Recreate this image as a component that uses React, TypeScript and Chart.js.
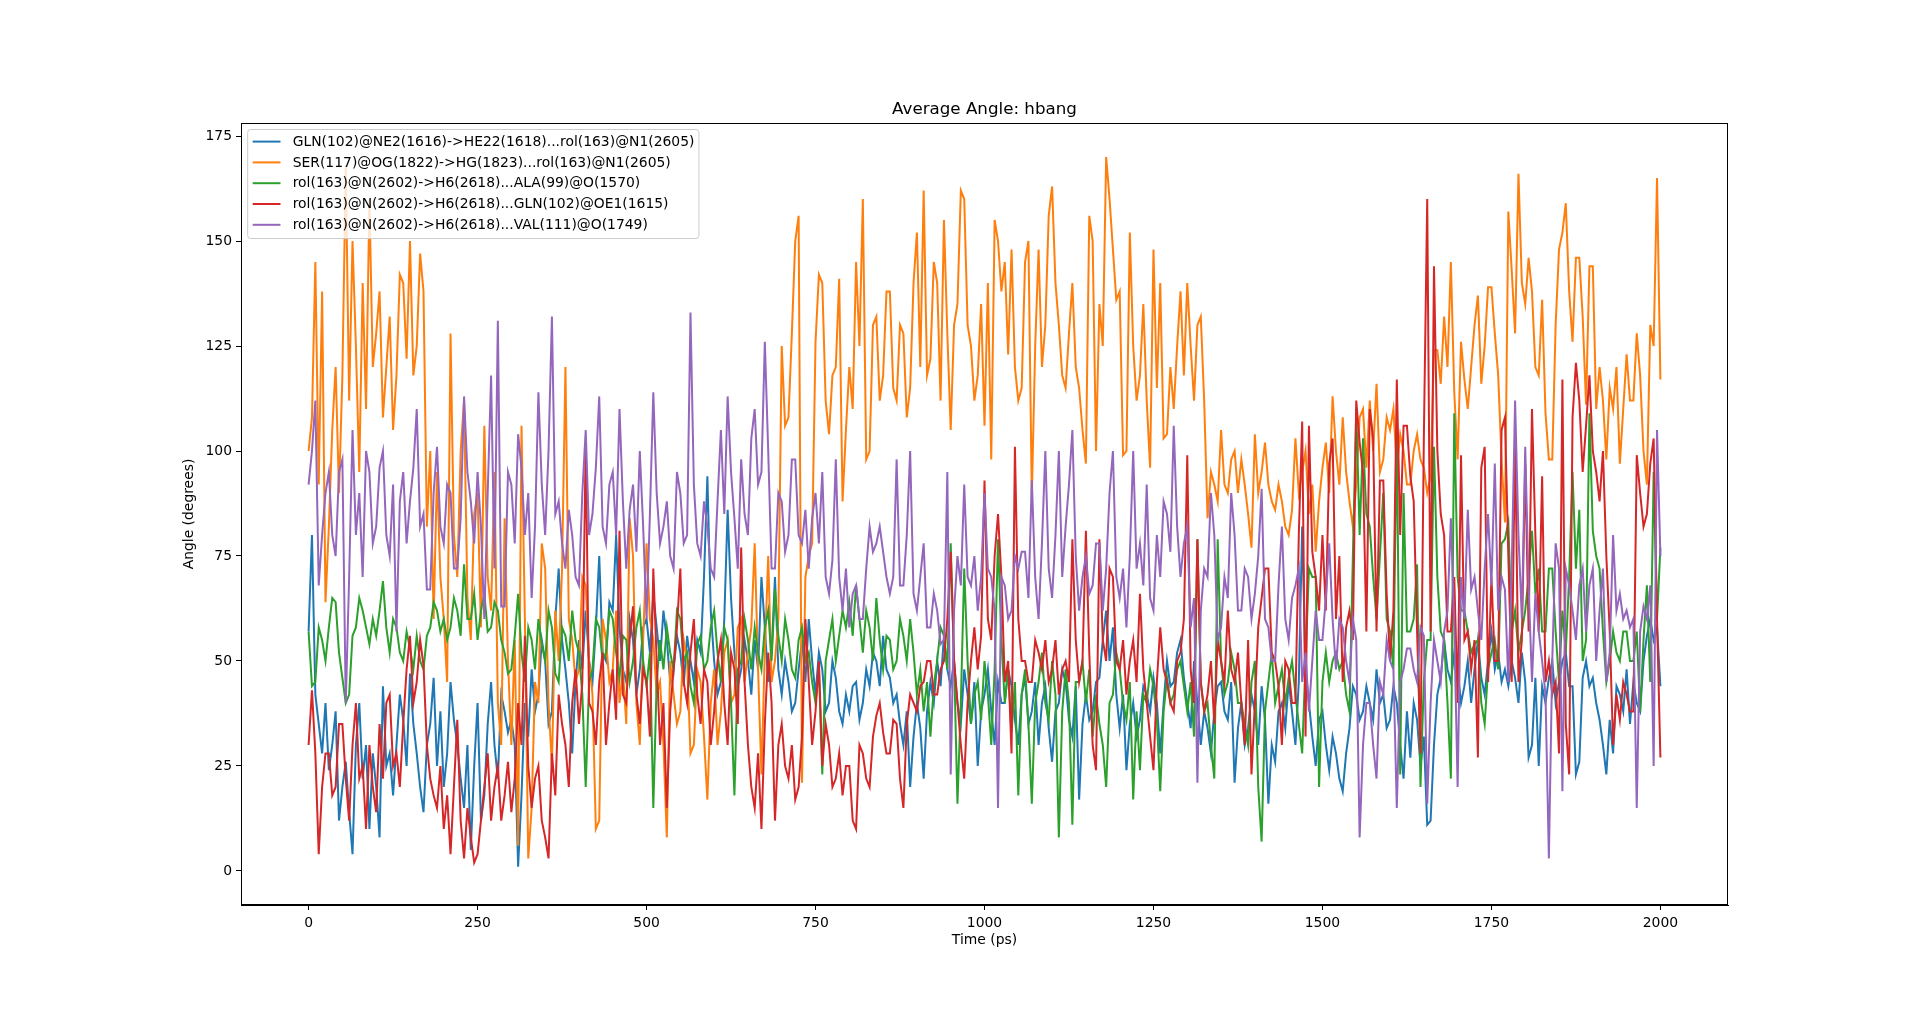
import React, { useEffect, useRef } from "react";
import { Chart, registerables } from "chart.js";

Chart.register(...registerables);

// ---- data ----
const TIME_STEP_PS = 5; // one sample every 5 ps, 0..2000 ps
const X_TICKS = [0, 250, 500, 750, 1000, 1250, 1500, 1750, 2000];
const Y_TICKS = [0, 25, 50, 75, 100, 125, 150, 175];

const SERIES_NAMES = [
  "GLN(102)@NE2(1616)->HE22(1618)...rol(163)@N1(2605)",
  "SER(117)@OG(1822)->HG(1823)...rol(163)@N1(2605)",
  "rol(163)@N(2602)->H6(2618)...ALA(99)@O(1570)",
  "rol(163)@N(2602)->H6(2618)...GLN(102)@OE1(1615)",
  "rol(163)@N(2602)->H6(2618)...VAL(111)@O(1749)",
];
const COLORS = ["#1f77b4", "#ff7f0e", "#2ca02c", "#d62728", "#9467bd"];

// each row = 100 ps (20 samples)
const glnHe22 = [
  57, 80, 42, 35, 28, 40, 24, 30, 38, 12, 20, 26, 14, 4, 30, 40, 22, 30, 10, 28,
  20, 8, 44, 25, 28, 18, 30, 42, 36, 25, 47, 35, 28, 20, 14, 30, 35, 46, 25, 38,
  20, 28, 45, 36, 30, 22, 15, 30, 5, 25, 40, 12, 18, 35, 45, 30, 22, 42, 38, 33,
  36, 30, 1, 18, 40, 32, 48, 38, 42, 55, 50, 35, 38, 60, 72, 55, 48, 40, 28, 45,
  55, 48, 62, 50, 45, 58, 75, 52, 50, 64, 62, 80, 58, 48, 45, 60, 55, 42, 48, 58,
  60, 52, 66, 58, 50, 62, 55, 45, 48, 56, 52, 44, 56, 50, 45, 55, 52, 70, 94, 62,
  50, 42, 45, 60, 86, 65, 52, 44, 48, 55, 50, 42, 55, 48, 70, 58, 45, 52, 70, 48,
  42, 50, 45, 38, 40, 48, 55, 45, 60, 50, 42, 52, 48, 38, 40, 50, 46, 38, 35, 42,
  38, 44, 45, 36, 40, 48, 44, 52, 50, 44, 56, 48, 46, 40, 42, 35, 30, 38, 20, 32,
  40, 34, 22, 38, 45, 40, 50, 44, 56, 48, 44, 50, 40, 35, 48, 42, 35, 45, 25, 38,
  42, 48, 38, 30, 45, 40, 40, 48, 44, 36, 30, 42, 46, 35, 38, 45, 30, 40, 44, 34,
  26, 38, 40, 48, 45, 36, 32, 44, 17, 35, 42, 36, 38, 45, 46, 55, 62, 50, 58, 42,
  34, 42, 24, 35, 40, 32, 36, 44, 42, 38, 46, 40, 28, 40, 50, 44, 45, 52, 55, 46,
  40, 34, 50, 40, 30, 38, 34, 28, 38, 44, 45, 38, 36, 45, 21, 34, 40, 30, 34, 42,
  38, 30, 44, 36, 16, 30, 26, 38, 40, 34, 45, 38, 30, 45, 82, 48, 40, 32, 25, 36,
  38, 30, 24, 32, 28, 22, 19, 28, 34, 44, 42, 36, 38, 44, 40, 36, 48, 40, 42, 34,
  36, 44, 40, 30, 22, 38, 27, 40, 36, 25, 32, 11, 12, 30, 42, 46, 55, 48, 45, 52,
  48, 40, 44, 50, 40, 48, 55, 46, 42, 50, 57, 48, 52, 45, 48, 44, 50, 46, 40, 52,
  45, 27, 30, 46, 25, 44, 40, 46, 50, 40, 45, 50, 52, 44, 44, 23, 26, 46, 50, 44,
  46, 40, 36, 30, 23, 36, 28, 44, 42, 38, 48, 35, 45, 40, 38, 50, 56, 60, 55, 58,
  44,
];

const serHg = [
  100, 108, 145, 92, 138, 64, 82, 105, 120, 90, 118, 168, 112, 150, 125, 95, 140, 110, 160, 120,
  128, 138, 108, 120, 132, 105, 118, 142, 140, 122, 150, 118, 125, 147, 138, 82, 100, 60, 95, 70,
  60, 45, 128, 80, 70, 100, 112, 65, 55, 85, 90, 58, 106, 70, 62, 95, 40, 30, 84, 50,
  30, 55, 6, 106, 60, 3, 15, 45, 40, 78, 72, 40, 25, 62, 50, 72, 120, 60, 55, 45,
  48, 70, 68, 50, 42, 10, 12, 60, 55, 45, 48, 62, 40, 48, 35, 84, 75, 40, 30, 55,
  78, 60, 55, 42, 45, 30, 8, 50, 42, 35, 38, 55, 50, 28, 30, 48, 45, 32, 17, 40,
  48, 30, 38, 52, 55, 40, 42, 58, 60, 45, 52, 58, 78, 48, 23, 52, 75, 45, 50, 60,
  125, 106, 108, 128, 150, 156, 21, 70, 75, 78, 126, 142, 140, 112, 104, 118, 120, 141, 88, 105,
  120, 110, 145, 125, 160, 98, 100, 130, 132, 112, 118, 138, 138, 115, 112, 130, 128, 108, 115, 140,
  152, 120, 162, 118, 122, 145, 140, 112, 155, 128, 105, 130, 135, 162, 160, 130, 125, 112, 118, 135,
  106, 140, 98, 155, 150, 138, 145, 123, 148, 120, 112, 115, 145, 150, 89, 125, 148, 120, 130, 156,
  163, 140, 130, 118, 115, 128, 140, 120, 115, 105, 97, 156, 150, 100, 135, 125, 170, 160, 148, 136,
  138, 99, 100, 152, 125, 112, 118, 135, 112, 96, 148, 115, 140, 103, 104, 120, 110, 125, 138, 118,
  140, 125, 112, 130, 132, 112, 84, 95, 92, 88, 105, 92, 90, 98, 100, 90, 98, 92, 85, 77,
  104, 90, 95, 102, 92, 88, 86, 92, 88, 82, 80, 86, 103, 90, 95, 100, 85, 92, 76, 88,
  96, 102, 90, 113, 100, 92, 108, 95, 88, 82, 92, 108, 110, 96, 112, 100, 116, 95, 98, 108,
  105, 110, 96, 104, 100, 92, 92, 100, 104, 98, 96, 90, 94, 124, 124, 116, 132, 120, 145, 114,
  98, 126, 117, 110, 120, 130, 137, 116, 125, 139, 139, 128, 118, 98, 83, 157, 143, 128, 166, 140,
  135, 146, 138, 120, 118, 136, 109, 98, 98, 130, 148, 152, 159, 138, 126, 146, 146, 132, 111, 144,
  144, 110, 120, 112, 98, 115, 110, 120, 97, 110, 123, 112, 112, 128, 118, 100, 92, 130, 125, 165,
  117,
];

const ala99 = [
  57, 44, 45, 58, 55, 50, 58, 65, 64, 52, 46, 40, 42, 56, 58, 65, 62, 58, 54, 60,
  56, 62, 69, 58, 52, 60, 58, 52, 50, 57, 53, 48, 56, 50, 48, 56, 58, 64, 62, 57,
  60, 55, 58, 65, 62, 56, 73, 60, 60, 66, 55, 62, 66, 57, 58, 64, 62, 55, 52, 47,
  48, 56, 66, 52, 45, 58, 55, 48, 60, 54, 50, 62, 58, 47, 45, 58, 56, 50, 62, 55,
  52, 42, 20, 45, 48, 60, 58, 50, 52, 62, 60, 52, 46, 56, 55, 45, 50, 58, 62, 50,
  44, 52, 15, 45, 55, 48, 58, 52, 48, 62, 60, 50, 52, 44, 40, 54, 56, 48, 50, 58,
  62, 52, 45, 58, 55, 40, 18, 48, 50, 60, 55, 48, 58, 52, 48, 58, 62, 50, 67, 56,
  50, 60, 55, 48, 46, 55, 58, 50, 52, 45, 40, 48, 23, 50, 55, 60, 50, 56, 62, 58,
  64, 56, 68, 60, 52, 62, 58, 50, 65, 55, 48, 56, 55, 48, 50, 60, 56, 50, 60, 52,
  42, 48, 38, 45, 32, 44, 50, 58, 56, 48, 78, 50, 16, 40, 72, 50, 35, 42, 45, 36,
  50, 42, 30, 48, 79, 55, 40, 48, 33, 45, 18, 42, 48, 35, 16, 40, 45, 52, 40, 36,
  50, 42, 8, 38, 48, 40, 11, 45, 45, 50, 40, 48, 32, 42, 35, 30, 20, 40, 42, 52,
  48, 40, 36, 45, 17, 38, 24, 42, 40, 48, 44, 36, 19, 38, 46, 40, 42, 48, 50, 44,
  38, 45, 32, 79, 45, 38, 40, 30, 22, 79, 50, 42, 45, 52, 48, 40, 40, 35, 30, 45,
  50, 20, 7, 38, 45, 52, 40, 44, 48, 40, 46, 50, 42, 35, 28, 50, 72, 70, 70, 20,
  45, 52, 45, 50, 52, 48, 50, 42, 38, 75, 110, 80, 103, 85, 82, 70, 60, 75, 90, 60,
  57, 48, 105, 23, 90, 57, 57, 60, 73, 20, 45, 55, 55, 101, 70, 57, 55, 40, 22, 109,
  70, 62, 62, 57, 52, 54, 55, 40, 35, 48, 52, 55, 48, 78, 79, 83, 57, 62, 52, 57,
  62, 70, 81, 66, 72, 57, 57, 72, 72, 57, 45, 62, 52, 70, 95, 72, 86, 50, 55, 109,
  81, 75, 72, 57, 45, 50, 57, 52, 50, 57, 57, 50, 50, 57, 38, 55, 68, 45, 95, 60,
  77,
];

const gln102Oe1 = [
  30, 43, 28, 4, 20, 28, 28, 18, 20, 35, 35, 22, 12, 30, 40, 22, 25, 10, 30, 20,
  14, 35, 22, 40, 42, 25, 28, 20, 35, 48, 56, 40, 45, 55, 49, 30, 22, 18, 15, 25,
  10, 18, 4, 20, 36, 12, 3, 15, 8, 2, 4, 12, 20, 28, 12, 20, 25, 12, 18, 26,
  14, 22, 40, 30, 56, 25, 15, 22, 25, 12, 8, 3, 28, 18, 42, 35, 30, 20, 40, 48,
  35, 45, 102, 40, 38, 30, 45, 52, 30, 40, 48, 36, 81, 42, 40, 55, 63, 42, 35, 48,
  45, 32, 72, 50, 30, 40, 15, 38, 48, 58, 72, 45, 40, 52, 60, 42, 35, 48, 45, 30,
  38, 50, 55, 40, 30, 52, 48, 35, 77, 45, 30, 20, 15, 28, 10, 35, 52, 40, 12, 30,
  35, 25, 22, 30, 17, 20, 32, 60, 45, 30, 38, 50, 25, 35, 30, 20, 22, 28, 18, 25,
  25, 12, 10, 30, 28, 22, 20, 32, 37, 40, 33, 28, 28, 36, 35, 22, 15, 35, 42, 40,
  38, 44, 45, 50, 50, 42, 42, 48, 50, 60, 76, 50, 40, 30, 22, 40, 50, 58, 48, 56,
  93, 60, 55, 75, 85, 70, 45, 50, 28, 101, 60, 50, 50, 45, 45, 55, 52, 48, 55, 45,
  48, 55, 42, 48, 50, 45, 79, 55, 45, 50, 81, 52, 30, 24, 79, 55, 50, 72, 70, 50,
  48, 55, 42, 50, 55, 45, 66, 48, 40, 32, 24, 45, 58, 48, 45, 40, 38, 50, 52, 60,
  99, 48, 40, 79, 45, 38, 42, 50, 35, 55, 50, 45, 62, 48, 45, 52, 40, 30, 55, 23,
  40, 58, 65, 72, 72, 52, 50, 44, 30, 50, 48, 40, 40, 80, 107, 32, 106, 76, 70, 62,
  80, 62, 97, 103, 60, 75, 45, 58, 62, 55, 112, 102, 95, 57, 110, 103, 57, 93, 93, 66,
  50, 62, 117, 80, 106, 106, 94, 88, 57, 28, 103, 160, 57, 144, 100, 85, 80, 57, 57, 70,
  40, 99, 55, 57, 48, 55, 27, 96, 101, 45, 70, 50, 50, 105, 108, 75, 45, 103, 45, 55,
  97, 57, 110, 80, 57, 94, 45, 50, 42, 45, 28, 117, 35, 23, 108, 121, 112, 95, 106, 118,
  100, 95, 88, 100, 75, 57, 30, 42, 36, 45, 42, 38, 38, 99, 90, 82, 85, 97, 103, 60,
  27,
];

const val111 = [
  92, 100, 112, 68, 80, 90, 95, 80, 75, 95, 98, 40, 70, 105, 80, 90, 70, 100, 95, 78,
  82, 96, 100, 80, 75, 92, 57, 88, 95, 78, 88, 96, 110, 82, 85, 67, 67, 90, 101, 82,
  78, 92, 90, 72, 72, 84, 113, 95, 88, 78, 95, 82, 60, 90, 118, 72, 131, 63, 63, 95,
  92, 78, 104, 96, 80, 90, 65, 82, 114, 92, 80, 100, 132, 85, 88, 78, 72, 86, 80, 70,
  68, 90, 105, 80, 85, 96, 113, 82, 78, 92, 95, 80, 110, 88, 72, 86, 92, 76, 100, 82,
  60, 85, 114, 90, 78, 82, 88, 75, 72, 95, 90, 78, 80, 133, 92, 78, 75, 88, 82, 72,
  70, 88, 105, 85, 113, 95, 84, 72, 98, 85, 80, 103, 110, 92, 95, 126, 100, 72, 72, 90,
  88, 76, 80, 98, 98, 80, 78, 86, 72, 84, 90, 78, 95, 70, 66, 74, 98, 70, 62, 72,
  58, 66, 68, 60, 60, 72, 82, 76, 78, 82, 76, 70, 66, 70, 98, 68, 68, 80, 100, 66,
  62, 70, 78, 58, 58, 66, 62, 54, 55, 95, 23, 62, 75, 68, 92, 70, 68, 75, 62, 70,
  90, 72, 70, 62, 15, 70, 68, 60, 62, 75, 72, 76, 76, 65, 93, 70, 60, 78, 100, 72,
  65, 80, 100, 70, 82, 92, 105, 75, 62, 70, 75, 66, 68, 78, 78, 62, 72, 90, 100, 70,
  65, 72, 58, 75, 100, 72, 78, 68, 92, 65, 62, 80, 70, 88, 85, 76, 106, 82, 70, 78,
  82, 58, 65, 21, 62, 72, 70, 90, 80, 55, 58, 70, 65, 90, 80, 62, 62, 72, 70, 60,
  66, 75, 91, 60, 58, 50, 50, 68, 82, 60, 55, 65, 68, 72, 45, 52, 38, 50, 62, 55,
  55, 65, 78, 60, 48, 60, 58, 50, 45, 60, 55, 8, 30, 40, 40, 30, 22, 45, 42, 55,
  50, 48, 15, 45, 48, 53, 53, 48, 45, 58, 56, 16, 40, 55, 50, 45, 57, 62, 84, 58,
  20, 70, 60, 86, 67, 70, 62, 55, 72, 85, 68, 97, 62, 70, 67, 45, 72, 112, 80, 60,
  101, 68, 45, 66, 57, 50, 42, 3, 50, 78, 72, 19, 72, 68, 62, 55, 68, 72, 57, 68,
  72, 50, 62, 72, 45, 52, 80, 62, 66, 60, 62, 58, 60, 15, 57, 63, 60, 68, 25, 105,
  75,
];

const SERIES = [glnHe22, serHg, ala99, gln102Oe1, val111];

// ---- styling ----
const FONT = "'DejaVu Sans', 'Liberation Sans', sans-serif";
const FS = 13.9;
const TITLE = "Average Angle: hbang";

const decorPlugin = {
  id: "decor",
  afterDatasetsDraw(chart: any) {
    const { ctx, chartArea: a } = chart;
    ctx.save();
    // legend (upper left, inside axes)
    ctx.font = `${FS}px ${FONT}`;
    const textX = a.left + 51.7;
    const rowY0 = a.top + 18.6;
    const rowH = 20.8;
    let maxW = 0;
    SERIES_NAMES.forEach((n) => {
      maxW = Math.max(maxW, ctx.measureText(n).width);
    });
    const bx = a.left + 6.7;
    const by = a.top + 6.5;
    const bw = textX + maxW + 4.5 - bx;
    const bh = 109;
    ctx.beginPath();
    if (ctx.roundRect) ctx.roundRect(bx, by, bw, bh, 3);
    else ctx.rect(bx, by, bw, bh);
    ctx.fillStyle = "rgba(255,255,255,0.8)";
    ctx.fill();
    ctx.strokeStyle = "#cccccc";
    ctx.lineWidth = 1;
    ctx.stroke();
    SERIES_NAMES.forEach((n, i) => {
      const y = rowY0 + i * rowH;
      ctx.strokeStyle = COLORS[i];
      ctx.lineWidth = 2;
      ctx.beginPath();
      ctx.moveTo(a.left + 11.7, y);
      ctx.lineTo(a.left + 39.5, y);
      ctx.stroke();
      ctx.fillStyle = "#000";
      ctx.textAlign = "left";
      ctx.textBaseline = "middle";
      ctx.fillText(n, textX, y + 0.5);
    });
    // axes frame (all four spines)
    ctx.strokeStyle = "#000";
    ctx.lineWidth = 1;
    ctx.strokeRect(
      Math.round(a.left) + 0.5,
      Math.round(a.top) + 0.5,
      Math.round(a.right - a.left) - 1,
      Math.round(a.bottom - a.top) - 1
    );
    // title
    ctx.font = `16.7px ${FONT}`;
    ctx.fillStyle = "#000";
    ctx.textAlign = "center";
    ctx.textBaseline = "alphabetic";
    ctx.fillText(TITLE, (a.left + a.right) / 2, a.top - 8.8);
    ctx.restore();
  },
};

export default function App() {
  const ref = useRef<HTMLCanvasElement | null>(null);

  useEffect(() => {
    document.body.style.margin = "0";
    const canvas = ref.current;
    if (!canvas) return;

    const datasets = SERIES.map((vals, i) => ({
      label: SERIES_NAMES[i],
      data: vals.map((v, j) => ({ x: j * TIME_STEP_PS, y: v })),
      borderColor: COLORS[i],
      backgroundColor: COLORS[i],
      borderWidth: 2,
      pointRadius: 0,
      pointHoverRadius: 0,
      tension: 0,
      fill: false,
      order: SERIES.length - i,
    }));

    const tickFont = { family: FONT, size: FS };

    const chart = new Chart(canvas, {
      type: "line",
      data: { datasets },
      plugins: [decorPlugin],
      options: {
        animation: false,
        responsive: false,
        devicePixelRatio: 1,
        events: [],
        layout: { padding: { left: 181, right: 192, top: 123, bottom: 68 } },
        plugins: {
          legend: { display: false },
          title: { display: false },
          tooltip: { enabled: false },
        },
        scales: {
          x: {
            type: "linear",
            min: -100,
            max: 2100,
            afterBuildTicks: (s: any) => {
              s.ticks = X_TICKS.map((v) => ({ value: v }));
            },
            afterFit: (s: any) => {
              s.height = 44;
            },
            ticks: {
              autoSkip: false,
              maxRotation: 0,
              color: "#000",
              font: tickFont,
              padding: 5,
              callback: (v: any) => String(v),
            },
            grid: {
              display: true,
              drawOnChartArea: false,
              drawTicks: true,
              tickLength: 5,
              color: "#000",
              tickColor: "#000",
            },
            border: { display: true, color: "#000", width: 1 },
            title: {
              display: true,
              text: "Time (ps)",
              color: "#000",
              font: tickFont,
              padding: { top: 0, bottom: 0 },
            },
          },
          y: {
            type: "linear",
            min: -8.1,
            max: 178.1,
            afterBuildTicks: (s: any) => {
              s.ticks = Y_TICKS.map((v) => ({ value: v }));
            },
            afterFit: (s: any) => {
              s.width = 60;
            },
            ticks: {
              autoSkip: false,
              color: "#000",
              font: tickFont,
              padding: 4,
              callback: (v: any) => String(v),
            },
            grid: {
              display: true,
              drawOnChartArea: false,
              drawTicks: true,
              tickLength: 5,
              color: "#000",
              tickColor: "#000",
            },
            border: { display: true, color: "#000", width: 1 },
            title: {
              display: true,
              text: "Angle (degrees)",
              color: "#000",
              font: tickFont,
              padding: { top: 0, bottom: 0 },
            },
          },
        },
      },
    } as any);

    return () => chart.destroy();
  }, []);

  return (
    <div style={{ width: 1920, height: 1017, background: "#fff" }}>
      <canvas ref={ref} width={1920} height={1017} style={{ display: "block" }} />
    </div>
  );
}
